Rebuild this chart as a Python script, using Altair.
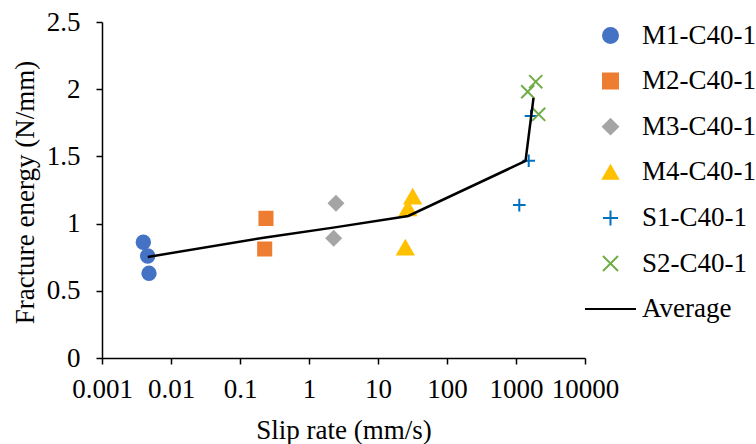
import altair as alt
import pandas as pd

# ---- data ----
series_names = ["M1-C40-1", "M2-C40-1", "M3-C40-1", "M4-C40-1", "S1-C40-1", "S2-C40-1", "Average"]

m1_x = [0.00397, 0.00459, 0.0048]
m1_y = [0.861, 0.759, 0.630]
m2_x = [0.238, 0.228]
m2_y = [1.039, 0.811]
m3_x = [2.46, 2.28]
m3_y = [1.151, 0.891]
m4_x = [31.8, 27.2, 24.9]
m4_y = [1.20, 1.114, 0.821]
s1_x = [1528, 1116, 1650]
s1_y = [1.468, 1.138, 1.80]
s2_x = [1931, 1479, 2133]
s2_y = [2.056, 1.981, 1.813]

avg_x = [0.0046, 0.233, 2.37, 27.5, 1374, 1794]
avg_y = [0.752, 0.897, 0.972, 1.057, 1.466, 1.935]

x_ticks = [0.001, 0.01, 0.1, 1, 10, 100, 1000, 10000]
y_ticks = [0, 0.5, 1, 1.5, 2, 2.5]

# ---- styles ----
PLUS = "M-1,0L1,0M0,-1L0,1"
CROSS = "M-1,-1L1,1M1,-1L-1,1"
STROKE = "M-3.4,0L3.4,0"
series_colors = ["#4472C4", "#ED7D31", "#A5A5A5", "#FFC000", "#0070C0", "#70AD47", "#000000"]
series_shapes = ["circle", "square", "diamond", "triangle-up", PLUS, CROSS, STROKE]
marker_sizes = {"M1-C40-1": 180, "M2-C40-1": 170, "M3-C40-1": 200, "M4-C40-1": 250,
                "S1-C40-1": 160, "S2-C40-1": 170}

FONT = "Liberation Serif"

rows = []
for name, xs, ys in [("M1-C40-1", m1_x, m1_y), ("M2-C40-1", m2_x, m2_y),
                     ("M3-C40-1", m3_x, m3_y), ("M4-C40-1", m4_x, m4_y),
                     ("S1-C40-1", s1_x, s1_y), ("S2-C40-1", s2_x, s2_y)]:
    for xv, yv in zip(xs, ys):
        rows.append({"series": name, "rate": xv, "energy": yv, "sz": marker_sizes[name]})
pts = pd.DataFrame(rows)
avg = pd.DataFrame({"rate": avg_x, "energy": avg_y})

xscale = alt.Scale(type="log", domain=[0.001, 10000], nice=False)
yscale = alt.Scale(domain=[0, 2.5], nice=False)

xaxis = alt.Axis(values=x_ticks, format="~g", labelBaseline="alphabetic", labelPadding=33,
                 labelFlush=False, labelOverlap=False,
                 title="Slip rate (mm/s)", titleBaseline="alphabetic", titleY=80)
yaxis = alt.Axis(values=y_ticks, format="~g", labelPadding=16, labelFlush=False,
                 labelOverlap=False,
                 title="Fracture energy (N/mm)", titleX=-77, titleY=170,
                 titleBaseline="middle", titleAlign="center", titleAngle=-90)

leg = alt.Legend(title=None, orient="none", legendX=495, legendY=0,
                 labelFont=FONT, labelFontSize=27, labelColor="black",
                 symbolSize=225, symbolStrokeWidth=2, labelOffset=18,
                 rowPadding=17.6, padding=0, labelLimit=200)

dom = series_names
points = alt.Chart(pts).mark_point(filled=False, opacity=1, strokeWidth=2).encode(
    x=alt.X("rate:Q", scale=xscale, axis=xaxis),
    y=alt.Y("energy:Q", scale=yscale, axis=yaxis),
    fill=alt.Fill("series:N", scale=alt.Scale(domain=dom, range=series_colors), legend=leg),
    stroke=alt.Stroke("series:N", scale=alt.Scale(domain=dom, range=series_colors), legend=leg),
    shape=alt.Shape("series:N", scale=alt.Scale(domain=dom, range=series_shapes), legend=leg),
    size=alt.Size("sz:Q", scale=None, legend=None),
)

line = alt.Chart(avg).mark_line(color="black", strokeWidth=2.5).encode(
    x=alt.X("rate:Q", scale=xscale),
    y=alt.Y("energy:Q", scale=yscale),
)

chart = alt.layer(points, line).properties(
    width=483, height=336,
    autosize=alt.AutoSizeParams(type="none"),
    padding={"left": 102, "top": 22, "right": 171, "bottom": 86},
    background="white",
).configure_view(stroke=None).configure_axis(
    grid=False, domainColor="black", domainWidth=1.5, tickColor="black", tickWidth=1.5,
    tickSize=6, labelFont=FONT, labelFontSize=27, labelColor="black",
    titleFont=FONT, titleFontSize=27, titleFontWeight="normal", titleColor="black",
)

chart.save("out.html", embed_options={"renderer": "svg", "actions": False})
